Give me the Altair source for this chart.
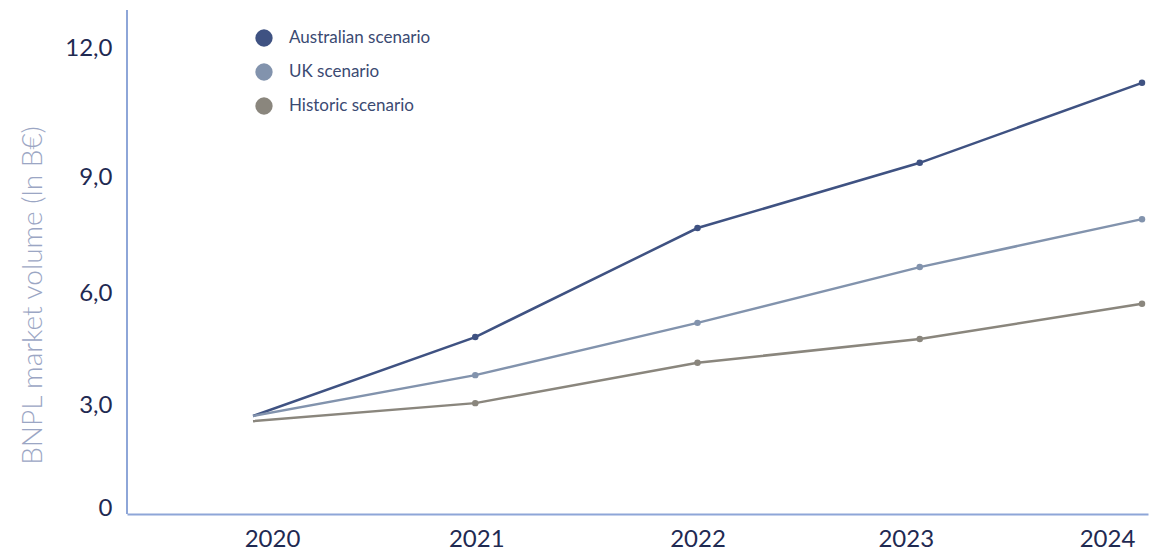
import altair as alt
import pandas as pd

years = [2020, 2021, 2022, 2023, 2024]
series_names = ["Australian scenario", "UK scenario", "Historic scenario"]
australian = [2.68, 4.82, 7.68, 9.33, 11.19]
uk = [2.68, 3.80, 5.20, 6.67, 7.91]
historic = [2.53, 3.05, 4.13, 4.77, 5.71]
y_ticks = [0, 3, 6, 9, 12]
colors = ["#3f5282", "#8293ad", "#8a867d"]

rows = []
for name, vals in zip(series_names, [australian, uk, historic]):
    for yr, v in zip(years, vals):
        rows.append({"year": yr, "value": v, "series": name})
df = pd.DataFrame(rows)

W, H = 1021, 504
FONT = "Lato"

x_enc = alt.X(
    "year:Q",
    scale=alt.Scale(domain=[2019.433, 2024.027], nice=False, zero=False),
    axis=alt.Axis(
        values=years, format="d", title=None, grid=False, ticks=False,
        domain=True, domainColor="#8ea6d8", domainWidth=2,
        labelFont=FONT, labelFontSize=24, labelColor="#1f2a52",
        labelPadding=13, labelFlush=False,
        labelOffset={"condition": [
            {"test": "datum.value == 2020", "value": 19},
            {"test": "datum.value == 2021", "value": 1},
            {"test": "datum.value == 2023", "value": -14},
            {"test": "datum.value == 2024", "value": -35}], "value": 0},
    ),
)
y_enc = alt.Y(
    "value:Q",
    scale=alt.Scale(domain=y_ticks, range=[498, 395, 283, 167, 38]),
    axis=alt.Axis(
        values=y_ticks, grid=False, ticks=False, domain=False,
        labelExpr="datum.value == 0 ? '0' : replace(format(datum.value, '.1f'), '.', ',')",
        labelFont=FONT, labelFontSize=24, labelColor="#1f2a52", labelPadding=15,
        title="BNPL market volume (ln B€)", titleFont=FONT, titleFontSize=28,
        titleFontWeight=300, titleColor="#9ba6c4", titleX=-94, titleY=285,
        titleAlign="center", titleBaseline="middle", titleAngle=270,
    ),
)
color_scale = alt.Scale(domain=series_names, range=colors)
legend = alt.Legend(
    title=None, orient="none", legendX=128, legendY=19,
    symbolType="circle", symbolSize=300, symbolStrokeWidth=0,
    symbolOpacity=1, rowPadding=16, labelOffset=16,
    labelFont=FONT, labelFontSize=17, labelColor="#3b4a72", padding=0)

lines = alt.Chart(df).mark_line(strokeWidth=2.5).encode(
    x=x_enc, y=y_enc,
    color=alt.Color("series:N", scale=color_scale, sort=series_names, legend=legend),
)
points = alt.Chart(df).transform_filter("datum.year > 2020").mark_point(
    filled=True, size=42, opacity=1, shape="circle"
).encode(
    x=x_enc, y=y_enc,
    color=alt.Color("series:N", scale=color_scale, sort=series_names, legend=legend),
)
yaxis_line = alt.Chart(pd.DataFrame({"a": [0]})).mark_rule(
    color="#8ea6d8", strokeWidth=2
).encode(x=alt.value(0), y=alt.value(0), y2=alt.value(H))

chart = alt.layer(yaxis_line, lines, points).properties(
    width=W, height=H,
    background="white",
    autosize=alt.AutoSizeParams(type="none"),
    padding={"left": 119, "top": 2, "right": 2, "bottom": 36},
).configure_view(stroke=None)

chart.save("out.html", embed_options={"renderer": "svg", "actions": False})
